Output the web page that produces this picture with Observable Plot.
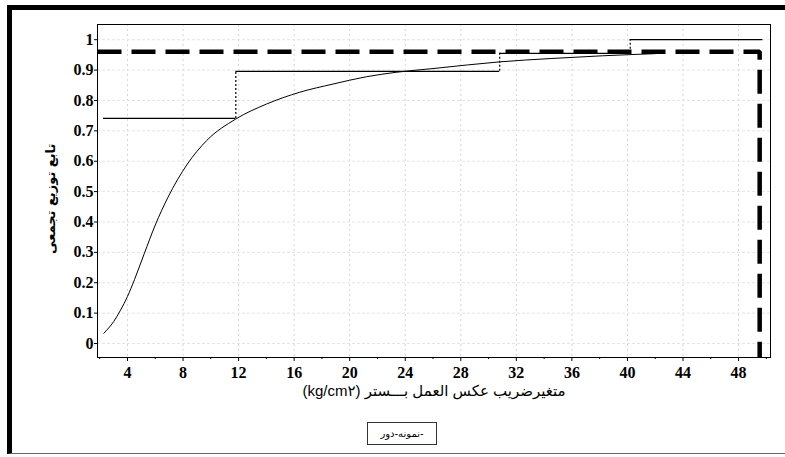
<!DOCTYPE html>
<html>
<head>
<meta charset="utf-8">
<script src="https://cdn.jsdelivr.net/npm/d3@7"></script>
<script src="https://cdn.jsdelivr.net/npm/@observablehq/plot@0.6"></script>
<style>
  html, body { margin: 0; padding: 0; background: #fff; }
  #wrap { position: relative; width: 785px; height: 457px; overflow: hidden; background: #fff; }
  #border { position: absolute; left: 7px; top: 5px; width: 790px; height: 449px;
            border-top: 5px solid #000; border-left: 5px solid #000; border-bottom: 1px solid #666; box-sizing: border-box; }
  #legend { position: absolute; left: 367px; top: 422px; width: 70px; height: 23px; box-sizing: border-box;
            border: 1px solid #333; font: 10px "DejaVu Sans", sans-serif; text-align: center; line-height: 21px;
            direction: rtl; background: #fff; }
  #chart { position: absolute; left: 0; top: 0; }
</style>
</head>
<body>
<div id="wrap">
  <div id="chart"></div>
  <div id="border"></div>
  <div id="legend">-نمونه-دور</div>
</div>
<script>
// Fitted cumulative distribution curve
const curveX = [2.3, 3.0, 3.5, 4.0, 4.5, 5.2, 6.0, 6.9, 8.3, 9.7, 11.8, 14.0, 16.4, 18.8, 21.2, 23.4, 26.0, 28.5, 30.8, 34.5, 38.2, 42.0];
const curveY = [0.034, 0.072, 0.11, 0.155, 0.21, 0.295, 0.39, 0.48, 0.59, 0.668, 0.739, 0.788, 0.827, 0.854, 0.878, 0.893, 0.905, 0.917, 0.927, 0.938, 0.947, 0.954];

// Empirical (step) distribution
const stepX = [2.27, 11.8, 30.8, 40.2];
const stepY = [0.741, 0.896, 0.955, 1.0];
const stepEnd = 49.75;

// Reference (thick dashed) level and limit
const refLevel = 0.96;
const refX = 49.52;

// Axes
const xDomain = [1.84, 50.3];
const yDomain = [-0.046, 1.05];
const xTicks = [4, 8, 12, 16, 20, 24, 28, 32, 36, 40, 44, 48];
const xTickLabels = ["4", "8", "12", "16", "20", "24", "28", "32", "36", "40", "44", "48"];
const xMinorTicks = [2, 6, 10, 14, 18, 22, 26, 30, 34, 38, 42, 46, 50];
const yTicks = [0, 0.1, 0.2, 0.3, 0.4, 0.5, 0.6, 0.7, 0.8, 0.9, 1];
const yTickLabels = ["0", "0.1", "0.2", "0.3", "0.4", "0.5", "0.6", "0.7", "0.8", "0.9", "1"];

const xLabel = "(kg/cm۲) متغیرضریب عکس العمل بـــستر";
const yLabel = "تابع توزیع تجمعی";

const curveData = curveX.map((x, i) => ({x, y: curveY[i]}));
const horiz = stepX.map((x, i) => ({x1: x, x2: i < stepX.length - 1 ? stepX[i + 1] : stepEnd, y: stepY[i]}));
const vert = stepX.slice(1).map((x, i) => ({x, y1: stepY[i], y2: stepY[i + 1]}));
const dashData = [
  {x: xDomain[0], y: refLevel},
  {x: refX, y: refLevel},
  {x: refX, y: yDomain[0]}
];
const xLab = new Map(xTicks.map((t, i) => [t, xTickLabels[i]]));
const yLab = new Map(yTicks.map((t, i) => [t, yTickLabels[i]]));

const serif = "Times New Roman, Liberation Serif, DejaVu Serif, serif";

const chart = Plot.plot({
  width: 785,
  height: 457,
  marginLeft: 97,
  marginRight: 15,
  marginTop: 24,
  marginBottom: 100,
  style: {background: "transparent"},
  x: {domain: xDomain, axis: null},
  y: {domain: yDomain, axis: null},
  marks: [
    Plot.gridX(xTicks, {stroke: "#d4d4d4", strokeOpacity: 1, strokeDasharray: "2,3"}),
    Plot.gridY(yTicks, {stroke: "#e4e4e4", strokeOpacity: 1, strokeDasharray: "3,2"}),
    Plot.frame({stroke: "#000"}),
    Plot.axisX(xTicks, {anchor: "bottom", tickSize: 4, tickPadding: 5, tickFormat: d => xLab.get(d), label: null}),
    Plot.axisX(xMinorTicks, {anchor: "bottom", tickSize: 2, tickFormat: () => "", label: null}),
    Plot.axisY(yTicks, {anchor: "left", tickSize: 3, tickPadding: 1, tickFormat: d => yLab.get(d), label: null}),
    Plot.line(curveData, {x: "x", y: "y", curve: "monotone-x", stroke: "#000", strokeWidth: 1}),
    Plot.ruleY(horiz, {x1: "x1", x2: "x2", y: "y", stroke: "#000", strokeWidth: 1.2}),
    Plot.ruleX(vert, {x: "x", y1: "y1", y2: "y2", stroke: "#000", strokeWidth: 1.2, strokeDasharray: "2,2"}),
    Plot.line(dashData, {x: "x", y: "y", stroke: "#000", strokeWidth: 4.5, strokeDasharray: "24,10", strokeLinecap: "butt", strokeLinejoin: "miter"}),
    Plot.text([xLabel], {frameAnchor: "bottom", dy: 38, text: d => d, fontSize: 15, fontWeight: "normal", fontFamily: "'Liberation Sans', 'DejaVu Sans', sans-serif", fill: "#000"}),
    Plot.text([yLabel], {frameAnchor: "left", dx: -47, dy: 63, rotate: -90, text: d => d, fontSize: 13, fontWeight: "bold", fontFamily: "'DejaVu Sans', sans-serif", fill: "#000"})
  ]
});
document.getElementById("chart").appendChild(chart);
// tick labels in a serif face (set directly on every tick-label text node)
chart.querySelectorAll("g[aria-label$='tick label']").forEach(g => {
  g.setAttribute("font-family", serif);
  g.setAttribute("font-weight", "bold");
  g.setAttribute("font-size", "16");
  g.querySelectorAll("text").forEach(t => {
    t.setAttribute("font-family", serif);
    t.style.fontFamily = serif;
    t.style.fontWeight = "bold";
    t.style.fontSize = "16px";
  });
});
</script>
</body>
</html>
